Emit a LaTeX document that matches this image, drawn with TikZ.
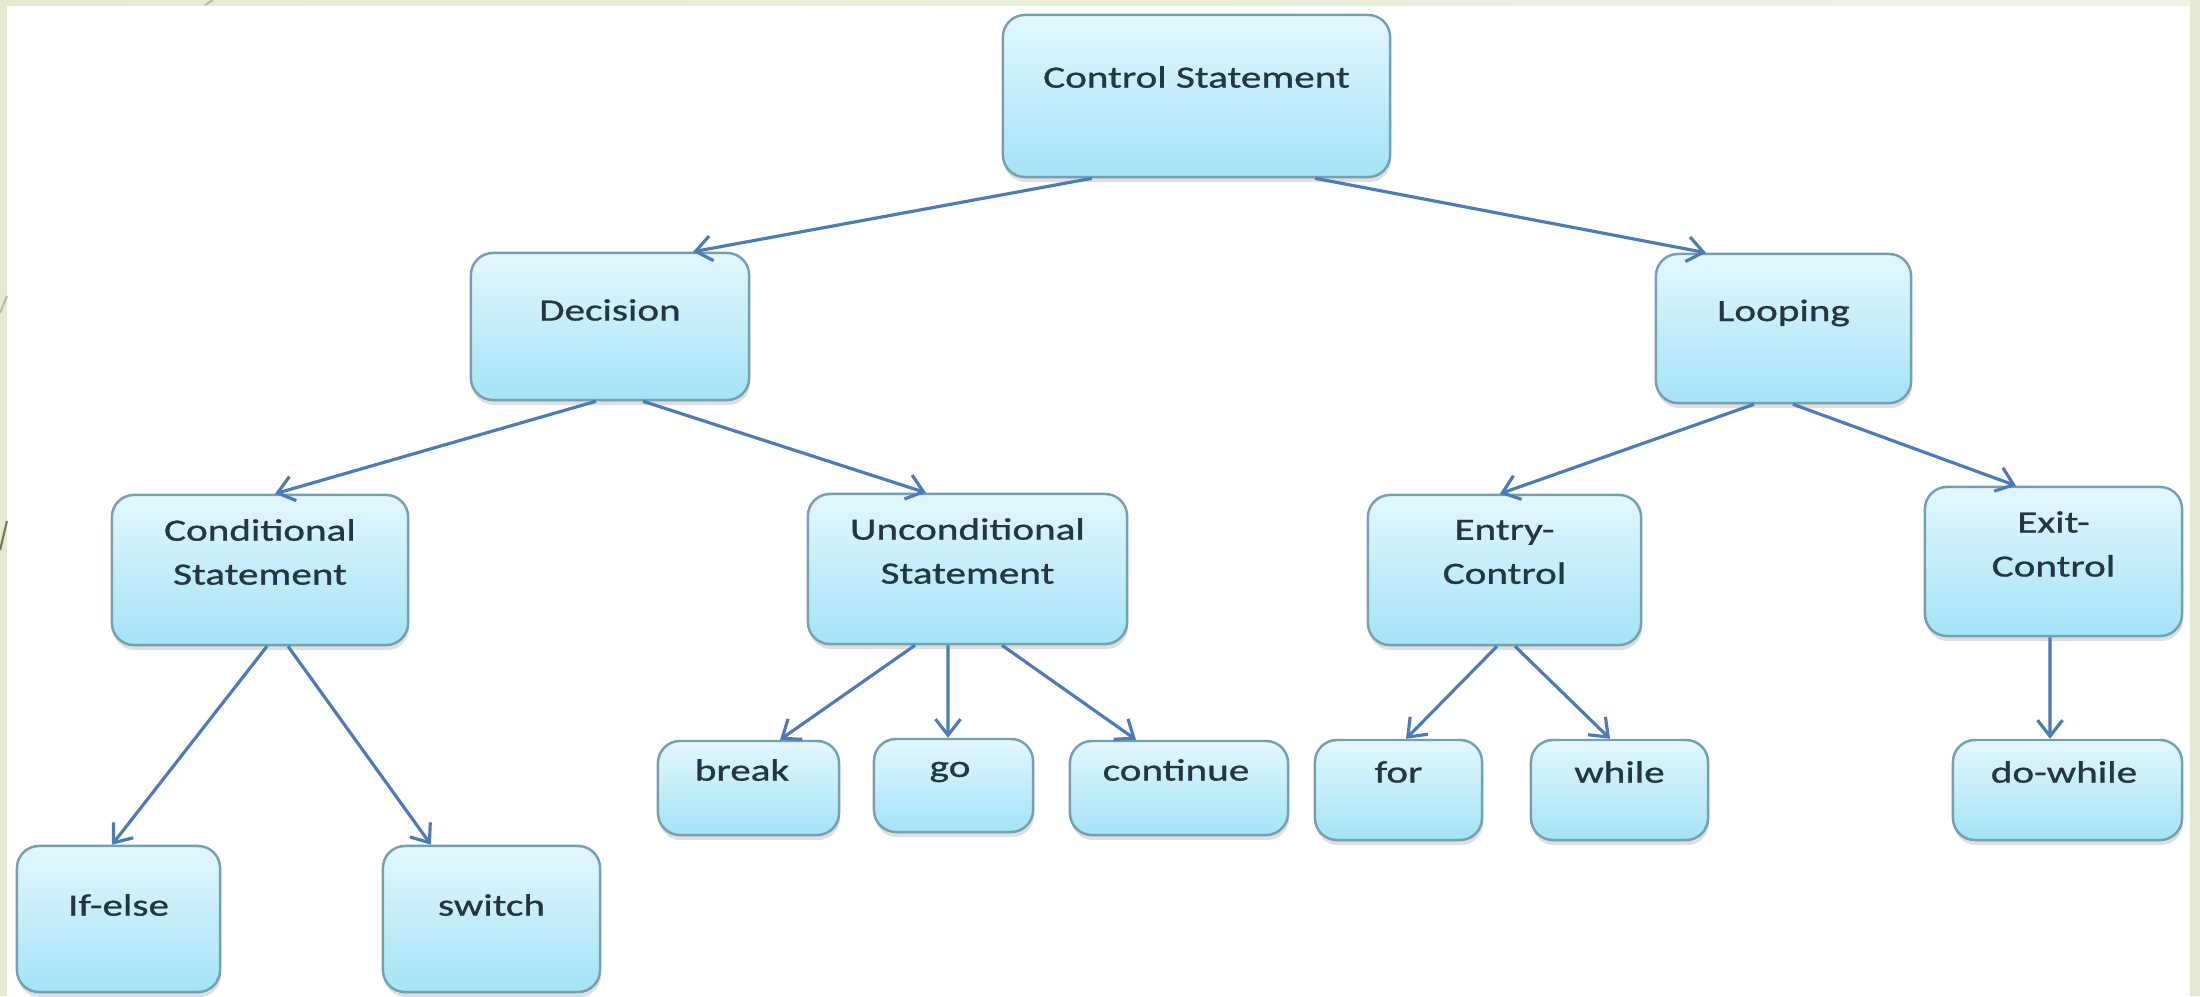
\documentclass[tikz,border=0pt]{standalone}
\usepackage{fontspec}
\newfontfamily\boxfont{Carlito}[FakeStretch=1.33, FakeBold=0.9]
\usetikzlibrary{arrows.meta,shadows}

\definecolor{framegreen}{HTML}{E5EBD2}
\definecolor{framegreenlight}{HTML}{EEF3E4}
\definecolor{frameline}{HTML}{B8BDA6}
\definecolor{framelinedark}{HTML}{7D7558}
\definecolor{boxtop}{HTML}{E3F7FD}
\definecolor{boxbottom}{HTML}{A4E3F6}
\definecolor{boxedge}{HTML}{74A0B2}
\definecolor{labelink}{HTML}{223644}
\definecolor{arrowblue}{HTML}{4C7BBA}

\begin{document}
\begin{tikzpicture}[x=0.01cm, y=-0.01cm,
  box/.style={draw=boxedge, line width=0.7pt, rounded corners=0.22cm,
    top color=boxtop, bottom color=boxbottom, inner sep=0pt,
    drop shadow={shadow xshift=0.01cm, shadow yshift=-0.05cm, opacity=0.25}},
  lbl/.style={font=\boxfont\fontsize{8.8}{12.5}\selectfont, text=labelink,
    align=center, inner sep=0pt},
  arr/.style={draw=arrowblue, line width=0.9pt,
    -{Straight Barb[length=0.16cm, width=0.25cm]}}]

\useasboundingbox (0,0) rectangle (2200,996);

% page background and frame
\fill[white] (0,0) rectangle (2200,996);
\shade[left color=framegreen, right color=framegreenlight] (0,0) rectangle (2200,5);
\fill[framegreen] (0,0) rectangle (7,996);
\fill[framegreen] (2190,0) rectangle (2200,996);
\draw[frameline, line width=0.6pt] (205,5) -- (213,0);
\draw[frameline, line width=0.6pt] (0,313) -- (7,296);
\draw[framelinedark, line width=0.6pt] (0,550) -- (7,521);

% boxes
\node[box, minimum width=3.87cm, minimum height=1.62cm] (cs)      at (1196.5,96)  {};
\node[box, minimum width=2.78cm, minimum height=1.47cm] (dec)     at (610,326.5)  {};
\node[box, minimum width=2.55cm, minimum height=1.49cm] (loop)    at (1783.5,328.5) {};
\node[box, minimum width=2.96cm, minimum height=1.50cm] (cond)    at (260,570)    {};
\node[box, minimum width=3.19cm, minimum height=1.50cm] (uncond)  at (967.5,569)  {};
\node[box, minimum width=2.73cm, minimum height=1.50cm] (entry)   at (1504.5,570) {};
\node[box, minimum width=2.57cm, minimum height=1.49cm] (exit)    at (2053.5,561.5) {};
\node[box, minimum width=1.81cm, minimum height=0.94cm] (brk)     at (748.5,788)  {};
\node[box, minimum width=1.59cm, minimum height=0.93cm] (go)      at (953.5,785.5) {};
\node[box, minimum width=2.18cm, minimum height=0.94cm] (cont)    at (1179,788)   {};
\node[box, minimum width=1.67cm, minimum height=1.00cm] (for)     at (1398.5,790) {};
\node[box, minimum width=1.77cm, minimum height=1.00cm] (while)   at (1619.5,790) {};
\node[box, minimum width=2.29cm, minimum height=1.00cm] (dowhile) at (2067.5,790) {};
\node[box, minimum width=2.03cm, minimum height=1.46cm] (ifelse)  at (118.5,919)  {};
\node[box, minimum width=2.17cm, minimum height=1.46cm] (switch)  at (491.5,919)  {};

% labels
\node[lbl] (cs-t)      at (1196.5,77) {Control Statement};
\node[lbl] (dec-t)     at (610,310)   {Decision};
\node[lbl] (loop-t)    at (1783.5,313) {Looping};
\node[lbl] (cond-t)    at (260,552)   {Conditional\\Statement};
\node[lbl] (uncond-t)  at (967.5,551) {Unconditional\\Statement};
\node[lbl] (entry-t)   at (1504.5,552) {Entry-\\Control};
\node[lbl] (exit-t)    at (2053.5,544) {Exit-\\Control};
\node[lbl] (brk-t)     at (742,770)   {break};
\node[lbl] (go-t)      at (950,772)   {go};
\node[lbl] (cont-t)    at (1176,770)  {continue};
\node[lbl] (for-t)     at (1398.5,772) {for};
\node[lbl] (while-t)   at (1619.5,772) {while};
\node[lbl] (dowhile-t) at (2064,772)  {do-while};
\node[lbl] (ifelse-t)  at (118.5,905) {If-else};
\node[lbl] (switch-t)  at (491.5,905) {switch};

% connectors
\draw[arr] ([xshift=-1.045cm]cs.south) -- ([xshift=0.83cm]dec.north);
\draw[arr] ([xshift=1.185cm]cs.south) -- ([xshift=-0.775cm]loop.north);
\draw[arr] ([xshift=-0.14cm]dec.south) -- ([xshift=0.15cm]cond.north);
\draw[arr] ([xshift=0.33cm]dec.south) -- ([xshift=-0.415cm]uncond.north);
\draw[arr] ([xshift=-0.295cm]loop.south) -- ([xshift=-0.045cm]entry.north);
\draw[arr] ([xshift=0.095cm]loop.south) -- ([xshift=-0.375cm]exit.north);
\draw[arr] ([xshift=0.07cm]cond.south) -- ([xshift=-0.065cm]ifelse.north);
\draw[arr] ([xshift=0.28cm]cond.south) -- ([xshift=-0.605cm]switch.north);
\draw[arr] ([xshift=-0.525cm]uncond.south) -- ([xshift=0.315cm]brk.north);
\draw[arr] ([xshift=-0.195cm]uncond.south) -- ([xshift=-0.055cm]go.north);
\draw[arr] ([xshift=0.345cm]uncond.south) -- ([xshift=-0.43cm]cont.north);
\draw[arr] ([xshift=-0.075cm]entry.south) -- ([xshift=0.075cm]for.north);
\draw[arr] ([xshift=0.105cm]entry.south) -- ([xshift=-0.095cm]while.north);
\draw[arr] ([xshift=-0.035cm]exit.south) -- ([xshift=-0.175cm]dowhile.north);

\end{tikzpicture}
\end{document}
